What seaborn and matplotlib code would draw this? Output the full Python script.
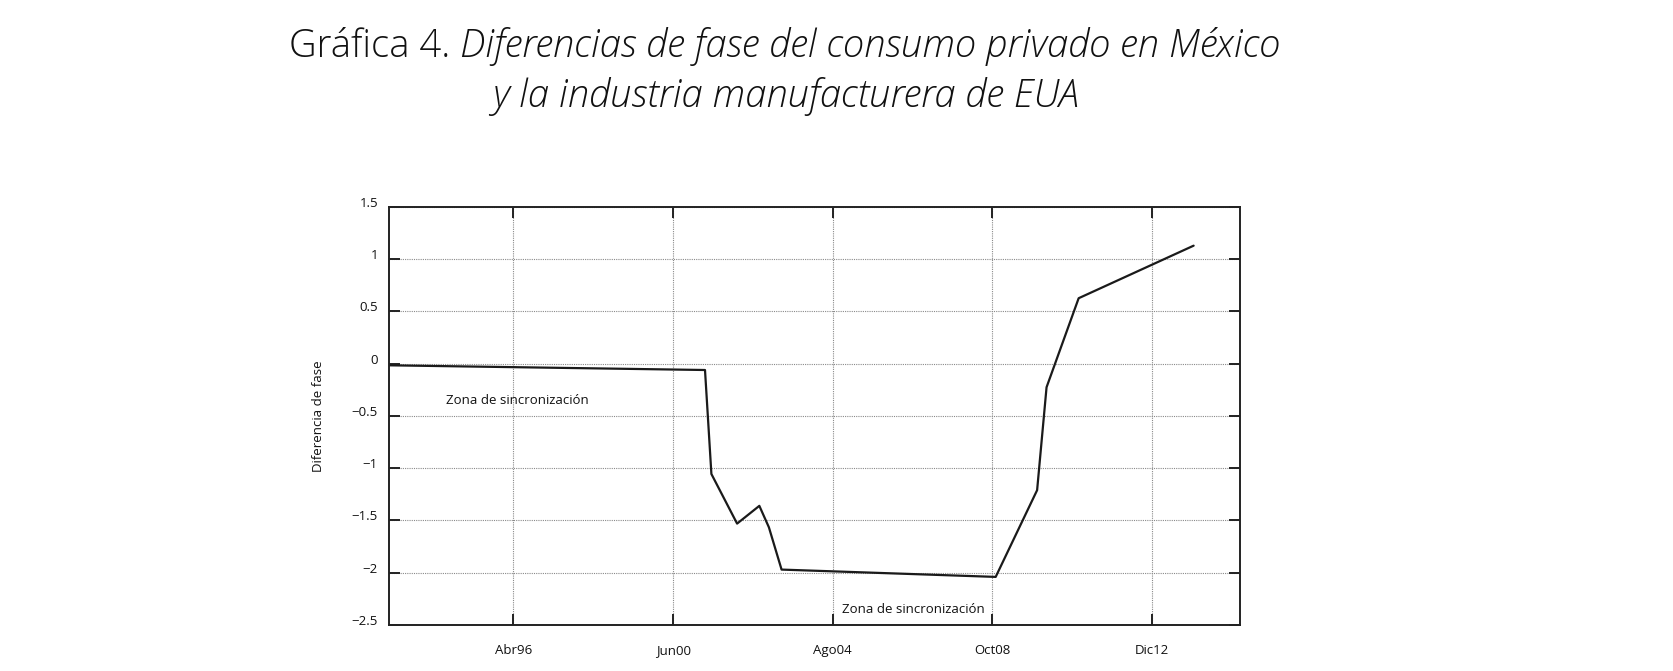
import pandas as pd
import seaborn as sns
import matplotlib.pyplot as plt

# datos
fechas = ['1993-01-01', '2001-04-01', '2001-06-01', '2002-02-01', '2002-09-01', '2002-12-01',
          '2003-04-01', '2008-11-01', '2009-12-01', '2010-03-01', '2011-01-01', '2014-01-01']
diferencia = [-0.015, -0.06, -1.055, -1.53, -1.36, -1.565, -1.97, -2.04, -1.21, -0.225, 0.627, 1.13]

tick_fechas = ['1996-04-01', '2000-06-01', '2004-08-01', '2008-10-01', '2012-12-01']
tick_labels = ['Abr96', 'Jun00', 'Ago04', 'Oct08', 'Dic12']
y_ticks = [-2.5, -2, -1.5, -1, -0.5, 0, 0.5, 1, 1.5]

df = pd.DataFrame({'fecha': pd.to_datetime(fechas), 'dif': diferencia})

sns.set_theme(style='white')
plt.rcParams['font.family'] = ['Open Sans', 'DejaVu Sans']

fig = plt.figure(figsize=(16.74, 6.71), dpi=100)
ax = fig.add_axes([0.2324, 0.0686, 0.5084, 0.6229])

sns.lineplot(data=df, x='fecha', y='dif', color='#1a1a1a', linewidth=1.6, ax=ax)

ax.set_xlim(pd.Timestamp('1993-01-01'), pd.Timestamp('2015-03-20'))
ax.set_ylim(-2.5, 1.5)
ax.set_xticks(pd.to_datetime(tick_fechas))
ax.set_xticklabels(tick_labels)
ax.set_yticks(y_ticks)
ax.set_yticklabels([('%g' % v).replace('-', '\u2212') for v in y_ticks])

ax.grid(True, color='#8a8a8a', linestyle=(0, (1, 1)), linewidth=0.8)
for s in ax.spines.values():
    s.set_color('#222222')
    s.set_linewidth(1.4)

ax.tick_params(axis='both', direction='in', length=8, width=1.4, color='#222222',
               labelsize=9.5, labelcolor='#111111')
ax.tick_params(axis='y', right=True, left=True, pad=8)
ax.tick_params(axis='x', top=True, bottom=True, pad=14)
for lab in ax.get_yticklabels():
    lab.set_va('baseline')

ax.set_xlabel('')
ax.set_ylabel('Diferencia de fase', fontsize=9.5, color='#111111', labelpad=19)

ax.text(pd.Timestamp('1994-07-01'), -0.35, 'Zona de sincronización', fontsize=9.5,
        va='center', ha='left', color='#111111')
ax.text(pd.Timestamp('2004-11-01'), -2.35, 'Zona de sincronización', fontsize=9.5,
        va='center', ha='left', color='#111111')

# titulo: parte normal + parte en cursiva
tit_kw = dict(fontweight='light', va='baseline', ha='left', color='#111111')
t1 = fig.text(0, 1 - 57 / 671, 'Gráfica 4. ', fontsize=22, **tit_kw)
t2 = fig.text(0, 1 - 57 / 671, 'Diferencias de fase del consumo privado en México',
              fontsize=22, style='italic', **tit_kw)
t3 = fig.text(0, 1 - 107 / 671, 'y la industria manufacturera de EUA', fontsize=22,
              style='italic', **tit_kw)

fig.canvas.draw()
r = fig.canvas.get_renderer()
ancho = t1.get_window_extent(r).width + t2.get_window_extent(r).width
fs = 22 * 990 / ancho
for t in (t1, t2, t3):
    t.set_fontsize(fs)
fig.canvas.draw()
w1 = t1.get_window_extent(r).width
w2 = t2.get_window_extent(r).width
w3 = t3.get_window_extent(r).width
x0 = 785 - (w1 + w2) / 2
t1.set_x(x0 / 1674)
t2.set_x((x0 + w1) / 1674)
t3.set_x((785 - w3 / 2) / 1674)

fig.savefig('out.png', dpi=100)
